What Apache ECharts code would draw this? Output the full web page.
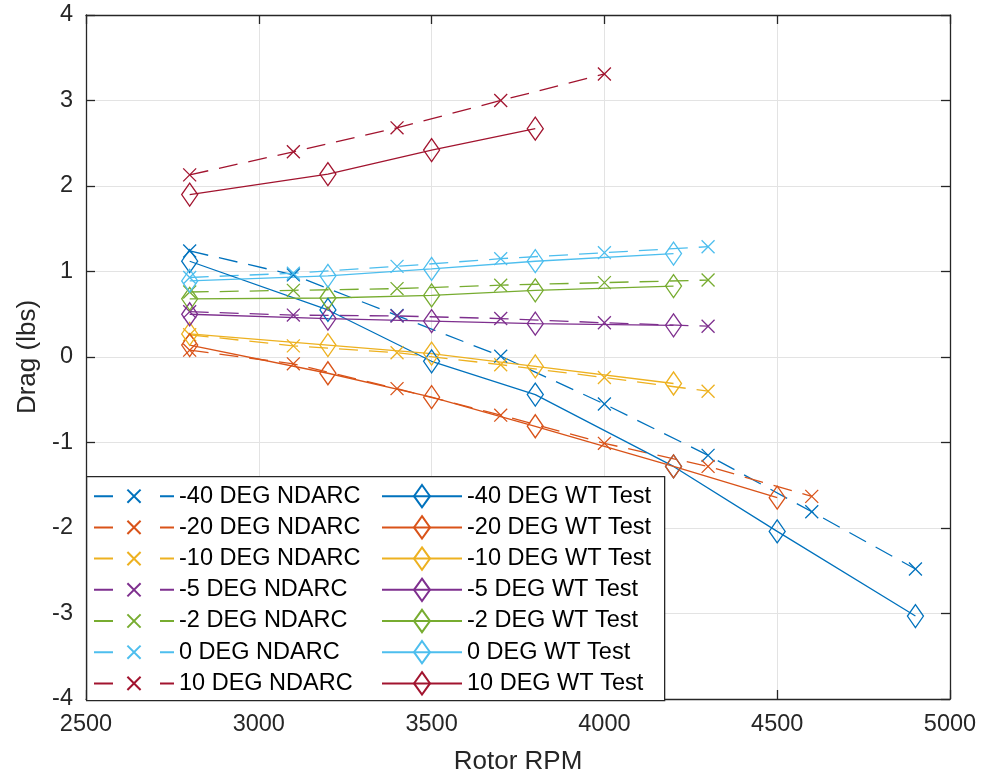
<!DOCTYPE html>
<html>
<head>
<meta charset="utf-8">
<script src="https://cdn.jsdelivr.net/npm/echarts@6/dist/echarts.min.js"></script>
<style>
html,body{margin:0;padding:0;background:#fff;}
#chart{width:987px;height:780px;}
</style>
</head>
<body>
<div id="chart"></div>
<script>
// ---- data ----
const rpmNdarc = [2800, 3100, 3400, 3700, 4000, 4300, 4600, 4900];
const rpmWt = [2800, 3200, 3500, 3800, 4200, 4500, 4900];

const ndarcNames = ['-40 DEG NDARC', '-20 DEG NDARC', '-10 DEG NDARC', '-5 DEG NDARC', '-2 DEG NDARC', '0 DEG NDARC', '10 DEG NDARC'];
const wtNames = ['-40 DEG WT Test', '-20 DEG WT Test', '-10 DEG WT Test', '-5 DEG WT Test', '-2 DEG WT Test', '0 DEG WT Test', '10 DEG WT Test'];

const ndarcM40 = [1.24, 0.96, 0.485, 0.01, -0.55, -1.15, -1.81, -2.48];
const ndarcM20 = [0.08, -0.08, -0.37, -0.68, -1.01, -1.28, -1.63];
const ndarcM10 = [0.26, 0.13, 0.05, -0.09, -0.24, -0.40];
const ndarcM5 = [0.53, 0.49, 0.48, 0.45, 0.40, 0.36];
const ndarcM2 = [0.76, 0.78, 0.80, 0.84, 0.87, 0.90];
const ndarc0 = [0.93, 0.98, 1.06, 1.15, 1.22, 1.29];
const ndarc10 = [2.13, 2.40, 2.68, 3.00, 3.31];

const wtM40 = [1.12, 0.55, -0.05, -0.44, -1.28, -2.04, -3.03];
const wtM20 = [0.14, -0.19, -0.47, -0.81, -1.28, -1.645];
const wtM10 = [0.27, 0.14, 0.04, -0.11, -0.31];
const wtM5 = [0.50, 0.45, 0.42, 0.39, 0.37];
const wtM2 = [0.68, 0.69, 0.72, 0.78, 0.83];
const wt0 = [0.89, 0.95, 1.03, 1.12, 1.21];
const wt10 = [1.90, 2.14, 2.42, 2.67];

const xTicks = [2500, 3000, 3500, 4000, 4500, 5000];
const yTicks = [-4, -3, -2, -1, 0, 1, 2, 3, 4];

// ---- styling ----
const colors = ['#0072BD', '#D95319', '#EDB120', '#7E2F8E', '#77AC30', '#4DBEEE', '#A2142F'];
const ndarcVals = [ndarcM40, ndarcM20, ndarcM10, ndarcM5, ndarcM2, ndarc0, ndarc10];
const wtVals = [wtM40, wtM20, wtM10, wtM5, wtM2, wt0, wt10];

// padded marker paths (invisible moveTo points extend the bounding box)
const crossPath = 'path://M-3.5,-3.5M13.5,13.5M0,0L10,10M10,0L0,10';
const diamondPath = 'path://M-2,0M12,14M5,0L10,7L5,14L0,7Z';
const axisColor = '#262626';
const font = 'Liberation Sans, Arial, sans-serif';

const series = [];
ndarcVals.forEach((vals, i) => {
  series.push({
    name: ndarcNames[i], type: 'line',
    data: vals.map((v, j) => [rpmNdarc[j], v]),
    symbol: crossPath, symbolSize: [22, 22],
    itemStyle: { color: 'transparent', borderColor: colors[i], borderWidth: 1.3 },
    lineStyle: { color: colors[i], width: 1.3, type: [19, 11] },
    emphasis: { disabled: true }, animation: false, z: 2
  });
});
wtVals.forEach((vals, i) => {
  series.push({
    name: wtNames[i], type: 'line',
    data: vals.map((v, j) => [rpmWt[j], v]),
    symbol: diamondPath, symbolSize: [22.4, 23],
    itemStyle: { color: 'transparent', borderColor: colors[i], borderWidth: 1.3 },
    lineStyle: { color: colors[i], width: 1.3, type: 'solid' },
    emphasis: { disabled: true }, animation: false, z: 2
  });
});

const legendCommon = {
  orient: 'vertical', top: 484, itemWidth: 80, itemHeight: 28, itemGap: 6.8,
  padding: 0, selectedMode: false, z: 10,
  textStyle: { fontSize: 23.5, color: '#000', fontFamily: font, lineHeight: 23 }
};

const axisLine = { show: true, onZero: false, lineStyle: { color: axisColor, width: 1.3 } };
const tick = { show: true, inside: true, length: 9, lineStyle: { color: axisColor, width: 1.3 } };

const option = {
  backgroundColor: '#fff',
  animation: false,
  grid: { left: 86, right: 37, top: 15, bottom: 80, containLabel: false },
  xAxis: [
    {
      type: 'value', min: 2500, max: 5000, interval: 500,
      name: 'Rotor RPM', nameLocation: 'middle', nameGap: 50,
      nameTextStyle: { fontSize: 26, color: axisColor, fontFamily: font },
      axisLine, axisTick: tick,
      axisLabel: { fontSize: 23.5, color: axisColor, fontFamily: font, margin: 14,
        formatter: v => xTicks.includes(v) ? String(v) : '' },
      splitLine: { show: true, lineStyle: { color: '#e3e3e3', width: 1 } }
    },
    {
      type: 'value', position: 'top', min: 2500, max: 5000, interval: 500,
      axisLine, axisTick: tick, axisLabel: { show: false }, splitLine: { show: false }
    }
  ],
  yAxis: [
    {
      type: 'value', min: -4, max: 4, interval: 1,
      name: 'Drag (lbs)', nameLocation: 'middle', nameGap: 41,
      nameTextStyle: { fontSize: 26, color: axisColor, fontFamily: font },
      axisLine, axisTick: tick,
      axisLabel: { fontSize: 23.5, color: axisColor, fontFamily: font, margin: 13,
        formatter: v => yTicks.includes(v) ? String(v) : '' },
      splitLine: { show: true, lineStyle: { color: '#e3e3e3', width: 1 } }
    },
    {
      type: 'value', position: 'right', min: -4, max: 4, interval: 1,
      axisLine, axisTick: tick, axisLabel: { show: false }, splitLine: { show: false }
    }
  ],
  legend: [
    Object.assign({}, legendCommon, { left: 93, data: ndarcNames, lineStyle: { type: [19, 47] } }),
    Object.assign({}, legendCommon, { left: 381, data: wtNames })
  ],
  graphic: [
    {
      type: 'rect', left: 86, top: 476, z: 5,
      shape: { width: 578, height: 224 },
      style: { fill: '#fff', stroke: axisColor, lineWidth: 1.3 }
    }
  ],
  series
};

const chart = echarts.init(document.getElementById('chart'), null, { renderer: 'canvas' });
chart.setOption(option);
</script>
</body>
</html>
